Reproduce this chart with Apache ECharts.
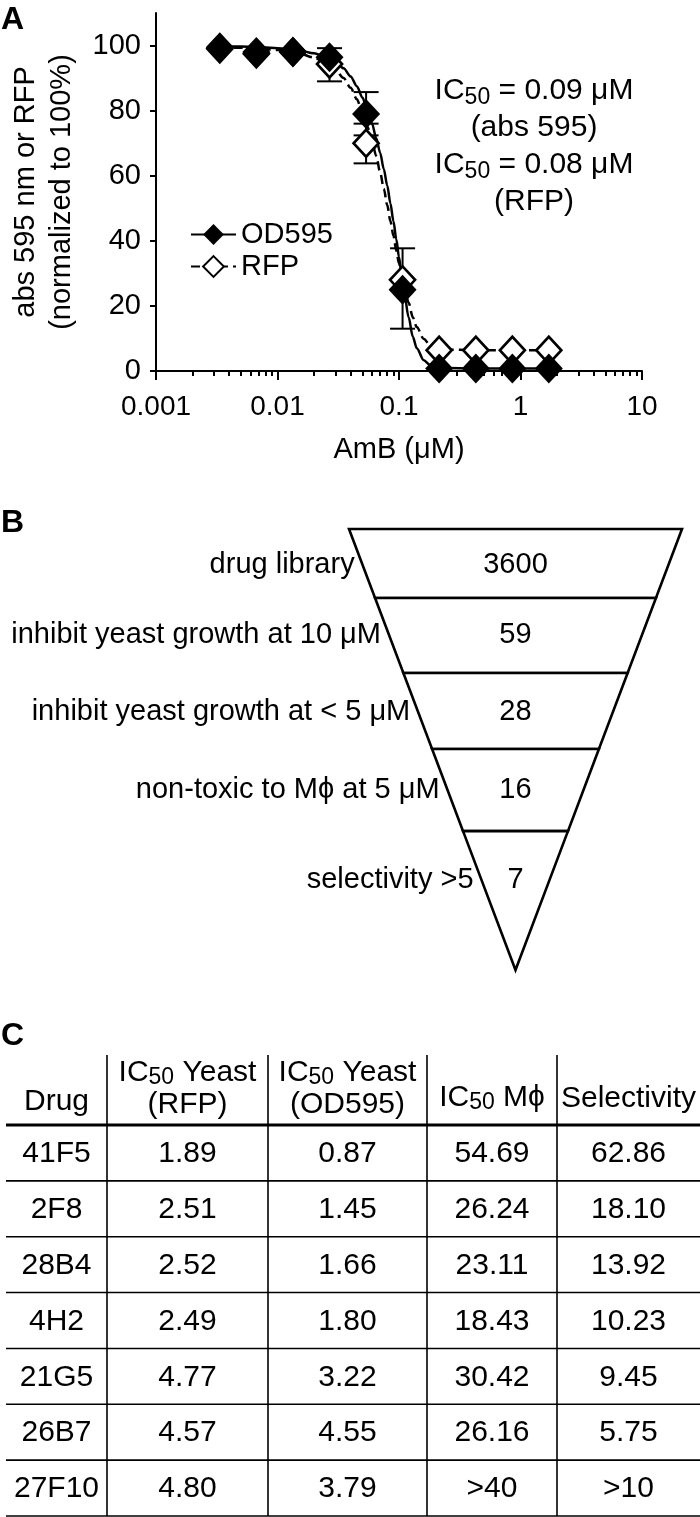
<!DOCTYPE html>
<html>
<head>
<meta charset="utf-8">
<script src="https://cdn.jsdelivr.net/npm/echarts@6/dist/echarts.min.js"></script>
<style>
  html, body { margin: 0; padding: 0; background: #fff; }
  #chart { width: 700px; height: 1517px; }
</style>
</head>
<body>
<div id="chart"></div>
<script>
// ---- panel A: AmB dose response ----
const amb = [0.00335, 0.0067, 0.0134, 0.0268, 0.0536, 0.107, 0.214, 0.429, 0.857, 1.71];
const od595 = [99.5, 98, 98, 96.4, 79, 25, 0.8, 0.8, 0.8, 0.8];
const rfp = [99, 97.5, 98, 94.3, 70, 28, 6.4, 6.4, 6.4, 6.4];
// error bars: [conc, low, high]
const od595Err = [[0.0536, 72.4, 85.7], [0.107, 13, 37.7]];
const rfpErr = [[0.0268, 89, 99.2], [0.0536, 63.8, 76]];
// fitted curves
const fitX = [0.00335, 0.005, 0.0075, 0.01, 0.015, 0.02, 0.025, 0.03, 0.035, 0.04, 0.045, 0.05, 0.055, 0.06,
  0.065, 0.07, 0.075, 0.08, 0.085, 0.09, 0.095, 0.1, 0.105, 0.11, 0.12, 0.13, 0.14, 0.16, 0.18, 0.2, 0.25, 0.4, 1.71];
const fitOD = [99.8, 99.7, 99.5, 99.2, 98.5, 97.6, 96.5, 95, 93, 90.5, 87.5, 84, 80, 76,
  71.5, 67, 62, 57, 51.5, 46, 40.5, 35, 29.5, 24.5, 16.5, 10.5, 7, 3.3, 1.9, 1.3, 0.9, 0.8, 0.8];
const fitRFP = [99.5, 99.3, 99, 98.6, 97.6, 96.3, 94.6, 92.5, 90, 87, 83.5, 79.5, 75, 70.5,
  66, 61, 56, 51, 46, 41.5, 37, 33, 29.5, 26.5, 21, 16.5, 13.5, 9.8, 8, 7.2, 6.6, 6.4, 6.4];
const yTicks = [0, 20, 40, 60, 80, 100];

// ---- panel B: screening funnel ----
const stageNames = ['drug library', 'inhibit yeast growth at 10 μM', 'inhibit yeast growth at < 5 μM',
  'non-toxic to Mϕ at 5 μM', 'selectivity >5'];
const stageCounts = [3600, 59, 28, 16, 7];

// ---- panel C: hit table ----
const drugs = ['41F5', '2F8', '28B4', '4H2', '21G5', '26B7', '27F10'];
const ic50YeastRFP = ['1.89', '2.51', '2.52', '2.49', '4.77', '4.57', '4.80'];
const ic50YeastOD = ['0.87', '1.45', '1.66', '1.80', '3.22', '4.55', '3.79'];
const ic50Mphi = ['54.69', '26.24', '23.11', '18.43', '30.42', '26.16', '>40'];
const selectivity = ['62.86', '18.10', '13.92', '10.23', '9.45', '5.75', '>10'];

// layout bits
const FONT = 'Liberation Sans';
const funnelEdges = [1, 0.8435, 0.6735, 0.501, 0.315, 0];   // band edges, fraction of height from apex
const funnelLabelAt = [0.918, 0.76, 0.584, 0.408, 0.204];
const colEdges = [6, 107, 268, 427, 557, 700];

const chart = echarts.init(document.getElementById('chart'));

const txt = (x, y, text, align, size) => ({
  type: 'text', x: x, y: y,
  style: {
    text: text, fill: '#000', fontSize: size || 30, fontFamily: FONT,
    align: align || 'center', verticalAlign: 'middle'
  }
});
const seg = (x1, y1, x2, y2, w) => ({
  type: 'line', shape: { x1: x1, y1: y1, x2: x2, y2: y2 },
  style: { stroke: '#000', lineWidth: w || 1.6 }
});
const subRich = (lh, subLh) => ({
  n: { fontSize: 30, fontFamily: FONT, lineHeight: lh, fill: '#000', color: '#000' },
  s: { fontSize: 23, fontFamily: FONT, lineHeight: subLh, verticalAlign: 'bottom', fill: '#000', color: '#000' }
});
const panelTitle = (t, top) => ({
  text: t, left: 1, top: top, padding: 0,
  textStyle: { fontSize: 32, fontWeight: 'bold', fontFamily: FONT, color: '#000' }
});

const option = {
  animation: false,
  backgroundColor: '#fff',
  title: [panelTitle('A', 4), panelTitle('B', 507), panelTitle('C', 1020)],
  legend: {
    data: ['OD595', 'RFP'],
    orient: 'vertical',
    left: 190, top: 220,
    itemWidth: 45, itemHeight: 26, itemGap: 3,
    padding: 0,
    textStyle: { fontSize: 29, fontFamily: FONT, color: '#000' }
  },
  graphic: [{
    type: 'text', x: 534, y: 72,
    style: {
      text: '{n|IC}{s|50}{n| = 0.09 μM}\n{n|(abs 595)}\n{n|IC}{s|50}{n| = 0.08 μM}\n{n|(RFP)}',
      rich: subRich(37, 22),
      align: 'center', textAlign: 'center', verticalAlign: 'top', textVerticalAlign: 'top'
    }
  }],
  grid: [
    { left: 154, right: 58, top: 13, bottom: 1146 },
    { left: 349, right: 18, top: 529, bottom: 547 },
    { left: 0, right: 0, top: 1125, bottom: 1 }
  ],
  xAxis: [
    {
      gridIndex: 0, type: 'log', logBase: 10, min: 0.001, max: 10,
      axisLine: { lineStyle: { color: '#000', width: 2 } },
      axisTick: { length: 9, lineStyle: { color: '#000', width: 2 } },
      minorTick: { show: true, splitNumber: 9, length: 5, lineStyle: { color: '#000', width: 2 } },
      splitLine: { show: false }, minorSplitLine: { show: false },
      axisLabel: { fontSize: 28, fontFamily: FONT, color: '#000', margin: 22 },
      name: 'AmB (μM)', nameLocation: 'middle', nameGap: 64,
      nameTextStyle: { fontSize: 29, fontFamily: FONT, color: '#000' }
    },
    { gridIndex: 1, type: 'value', min: -1, max: 1, show: false },
    { gridIndex: 2, type: 'value', min: 0, max: 700, show: false }
  ],
  yAxis: [
    {
      gridIndex: 0, type: 'value', min: 0, max: 110, interval: 10,
      axisLine: { show: true, lineStyle: { color: '#000', width: 2 } },
      axisTick: { show: true, length: 6, customValues: yTicks, lineStyle: { color: '#000', width: 2 } },
      axisLabel: { customValues: yTicks, fontSize: 29, fontFamily: FONT, color: '#000', margin: 15 },
      splitLine: { show: false },
      name: 'abs 595 nm or RFP\n(normalized to 100%)', nameLocation: 'middle', nameRotate: 90, nameGap: 76,
      nameTextStyle: { fontSize: 29, fontFamily: FONT, color: '#000', lineHeight: 36 }
    },
    { gridIndex: 1, type: 'value', min: 0, max: 1, show: false },
    { gridIndex: 2, type: 'category', data: drugs, inverse: true, show: false }
  ],
  series: [
    {
      name: 'OD595', type: 'line', xAxisIndex: 0, yAxisIndex: 0,
      data: fitX.map((x, i) => [x, fitOD[i]]),
      showSymbol: false, symbol: 'diamond', smooth: 0.3, smoothMonotone: 'x',
      lineStyle: { color: '#000', width: 2.5 }, itemStyle: { color: '#000' }, z: 2
    },
    {
      name: 'RFP', type: 'line', xAxisIndex: 0, yAxisIndex: 0,
      data: fitX.map((x, i) => [x, fitRFP[i]]),
      showSymbol: false, symbol: 'emptyDiamond', smooth: 0.3, smoothMonotone: 'x',
      lineStyle: { color: '#000', width: 2.5, type: [9, 5] }, itemStyle: { color: '#000' }, z: 2
    },
    {
      name: 'error', type: 'custom', xAxisIndex: 0, yAxisIndex: 0, z: 3,
      data: od595Err.concat(rfpErr),
      renderItem: (params, api) => {
        const hi = api.coord([api.value(0), api.value(2)]);
        const lo = api.coord([api.value(0), api.value(1)]);
        return {
          type: 'group', children: [
            seg(hi[0], hi[1], lo[0], lo[1], 2),
            seg(hi[0] - 12.5, hi[1], hi[0] + 12.5, hi[1], 2),
            seg(lo[0] - 12.5, lo[1], lo[0] + 12.5, lo[1], 2)
          ]
        };
      }
    },
    {
      name: 'RFP points', type: 'scatter', xAxisIndex: 0, yAxisIndex: 0, z: 4,
      data: amb.map((x, i) => [x, rfp[i]]),
      symbol: 'diamond', symbolSize: [25, 27],
      itemStyle: { color: '#fff', borderColor: '#000', borderWidth: 2.7, opacity: 1 }
    },
    {
      name: 'OD595 points', type: 'scatter', xAxisIndex: 0, yAxisIndex: 0, z: 5,
      data: amb.map((x, i) => [x, od595[i]]),
      symbol: 'diamond', symbolSize: [28, 30],
      itemStyle: { color: '#000', opacity: 1 }
    },
    {
      name: 'funnel', type: 'custom', xAxisIndex: 1, yAxisIndex: 1,
      data: stageCounts.map((c, i) => [0, 0, i]),
      renderItem: (params, api) => {
        const i = api.value(2);
        const t = funnelEdges[i], b = funnelEdges[i + 1];
        const pts = b > 0
          ? [api.coord([-t, t]), api.coord([t, t]), api.coord([b, b]), api.coord([-b, b])]
          : [api.coord([-t, t]), api.coord([t, t]), api.coord([0, 0])];
        const lv = funnelLabelAt[i];
        const mid = api.coord([0, lv]);
        const edge = api.coord([-lv, lv]);
        return {
          type: 'group', children: [
            { type: 'polygon', shape: { points: pts }, style: { fill: '#fff', stroke: '#000', lineWidth: 2.6 } },
            txt(mid[0], mid[1], String(stageCounts[i]), 'center', 29),
            txt(edge[0] - 8, mid[1], stageNames[i], 'right', 29)
          ]
        };
      }
    },
    {
      name: 'table header', type: 'custom', xAxisIndex: 2, yAxisIndex: 2,
      data: [[0, 0]],
      renderItem: (params, api) => {
        const h = api.size([0, 1])[1];
        const base = api.coord([0, 0])[1] - h / 2;
        const top = base - 70;
        const cx = k => api.coord([(colEdges[k] + colEdges[k + 1]) / 2, 0])[0];
        const X = v => api.coord([v, 0])[0];
        const rich2 = (label) => ({
          type: 'text', x: 0, y: base - 36,
          style: {
            text: '{n|IC}{s|50}{n| Yeast}\n{n|' + label + '}', rich: subRich(32, 17),
            align: 'center', verticalAlign: 'middle'
          }
        });
        const h1 = rich2('(RFP)'); h1.x = cx(1);
        const h2 = rich2('(OD595)'); h2.x = cx(2);
        const children = [
          seg(X(colEdges[0]), base, X(colEdges[5]), base, 3.2),
          txt(cx(0), base - 23, 'Drug'),
          h1, h2,
          {
            type: 'text', x: cx(3), y: base - 27,
            style: { text: '{n|IC}{s|50}{n| Mϕ}', rich: subRich(32, 17), align: 'center', verticalAlign: 'middle' }
          },
          txt(cx(4), base - 26, 'Selectivity')
        ];
        for (let k = 1; k < 5; k++) children.push(seg(X(colEdges[k]), top, X(colEdges[k]), base, 1.6));
        return { type: 'group', children: children };
      }
    },
    {
      name: 'table rows', type: 'custom', xAxisIndex: 2, yAxisIndex: 2,
      data: drugs.map((d, i) => [0, i]),
      renderItem: (params, api) => {
        const i = api.value(1);
        const y = api.coord([0, i])[1];
        const h = api.size([0, 1])[1];
        const X = v => api.coord([v, i])[0];
        const cells = [drugs[i], ic50YeastRFP[i], ic50YeastOD[i], ic50Mphi[i], selectivity[i]];
        const children = cells.map((c, k) => txt(X((colEdges[k] + colEdges[k + 1]) / 2), y + 1, c));
        children.push(seg(X(colEdges[0]), y + h / 2, X(colEdges[5]), y + h / 2, 1.6));
        for (let k = 1; k < 5; k++) children.push(seg(X(colEdges[k]), y - h / 2, X(colEdges[k]), y + h / 2, 1.6));
        return { type: 'group', children: children };
      }
    }
  ]
};

chart.setOption(option);
</script>
</body>
</html>
